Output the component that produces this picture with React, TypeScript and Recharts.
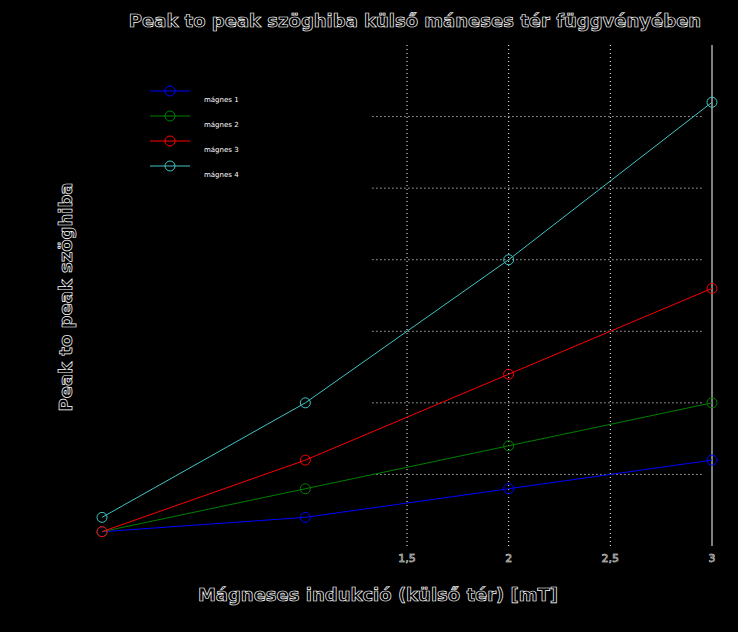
import { LineChart, Line, XAxis, YAxis, ReferenceLine } from 'recharts';

const fields = [0, 1, 2, 3];
const magnes1 = [0.2, 0.4, 0.8, 1.2];
const magnes2 = [0.2, 0.8, 1.4, 2.0];
const magnes3 = [0.2, 1.2, 2.4, 3.6];
const magnes4 = [0.4, 2.0, 4.0, 6.2];
const seriesNames = ['mágnes 1', 'mágnes 2', 'mágnes 3', 'mágnes 4'];
const xTicks = [1.5, 2, 2.5, 3];
const gridX = [1.5, 2, 2.5];
const gridLevels = [1, 2, 3, 4, 5, 6];

const colors = ['#0000ff', '#008000', '#ff0000', '#40c4c4'];

const data = fields.map((x, i) => ({
  x,
  m1: magnes1[i],
  m2: magnes2[i],
  m3: magnes3[i],
  m4: magnes4[i],
}));

const outline = {
  fill: '#000',
  stroke: '#fff',
  strokeWidth: 0.7,
  fontFamily: 'DejaVu Sans, sans-serif',
};

export default function App() {
  return (
    <div style={{ position: 'absolute', left: 0, top: 0, width: 738, height: 632, background: '#000' }}>
      <LineChart
        width={738}
        height={632}
        data={data}
        margin={{ top: 45, right: 26, bottom: 56, left: 102 }}
      >
        {gridX.map((v) => (
          <ReferenceLine key={`gx${v}`} x={v} stroke="#fff" strokeDasharray="1 3" />
        ))}
        {gridLevels.map((v) => (
          <ReferenceLine
            key={v}
            segment={[{ x: 1.33, y: v }, { x: 2.96, y: v }]}
            stroke="#fff"
            strokeDasharray="1 3"
          />
        ))}
        <ReferenceLine x={3} stroke="#fff" />
        <XAxis
          dataKey="x"
          type="number"
          domain={[0, 3]}
          ticks={xTicks}
          height={30}
          axisLine={false}
          tickLine={false}
          tickMargin={2}
          tickFormatter={(v: number) => String(v).replace('.', ',')}
          tick={{ ...outline, fontSize: 11, strokeWidth: 0.5 }}
        />
        <YAxis hide type="number" domain={[0, 7]} />
        {[magnes1, magnes2, magnes3, magnes4].map((_s, i) => (
          <Line
            key={i}
            dataKey={`m${i + 1}`}
            name={seriesNames[i]}
            stroke={colors[i]}
            strokeWidth={1}
            dot={{ r: 5, fill: 'none', stroke: colors[i], strokeWidth: 1 }}
            isAnimationActive={false}
          />
        ))}
      </LineChart>
      <svg width={738} height={632} style={{ position: 'absolute', left: 0, top: 0, pointerEvents: 'none' }}>
        {seriesNames.map((name, i) => (
          <g key={name}>
            <line x1={150} y1={91 + i * 25} x2={190} y2={91 + i * 25} stroke={colors[i]} />
            <circle cx={170} cy={91 + i * 25} r={5} fill="none" stroke={colors[i]} />
            <text x={204} y={102 + i * 25} fontSize={7} fill="#fff" fontFamily="DejaVu Sans, sans-serif">
              {name}
            </text>
          </g>
        ))}
        <text x={415} y={27} textAnchor="middle" fontSize={18} fontWeight="bold" {...outline}>
          Peak to peak szöghiba külső máneses tér függvényében
        </text>
        <text x={378} y={601} textAnchor="middle" fontSize={18} fontWeight="bold" {...outline}>
          Mágneses indukció (külső tér) [mT]
        </text>
        <text
          x={65}
          y={297}
          textAnchor="middle"
          dominantBaseline="central"
          fontSize={18}
          fontWeight="bold"
          transform="rotate(-90 65 297)"
          {...outline}
        >
          Peak to peak szöghiba
        </text>
      </svg>
    </div>
  );
}
